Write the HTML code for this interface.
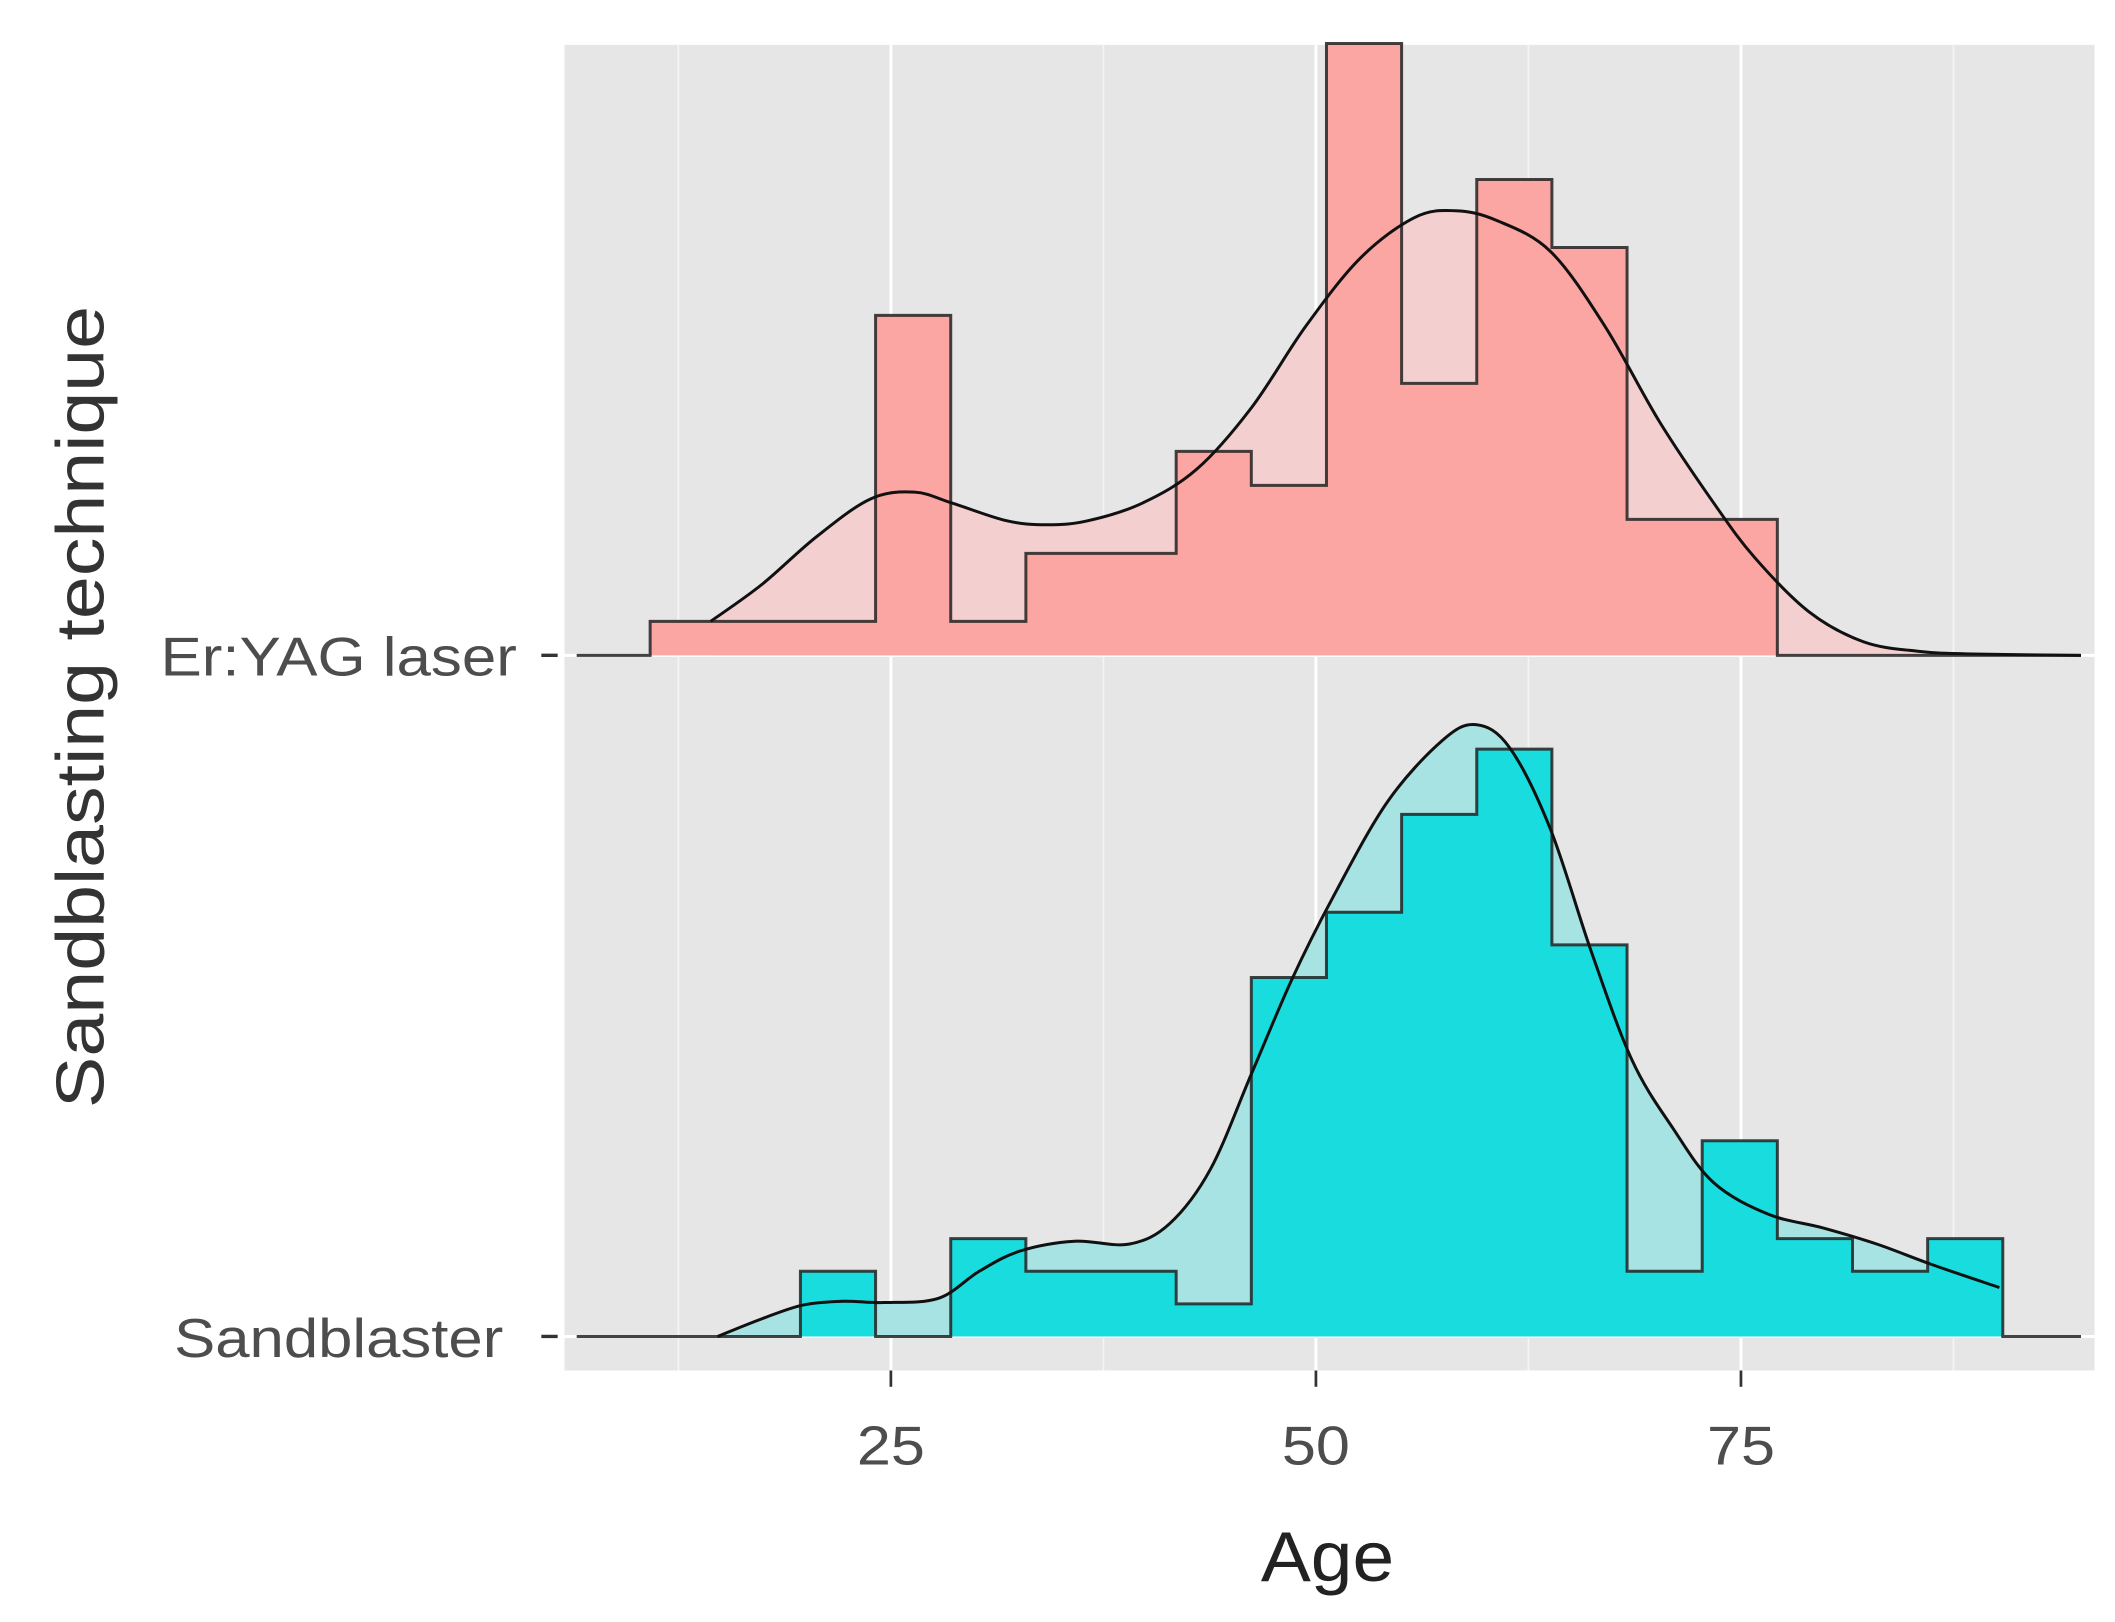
<!DOCTYPE html>
<html><head><meta charset="utf-8"><style>
html,body{margin:0;padding:0;background:#fff;}
svg{display:block;font-family:"Liberation Sans",Arial,sans-serif;}
</style></head><body>
<svg id="chart" width="2115" height="1622" viewBox="0 0 1555 1193" preserveAspectRatio="none" xmlns="http://www.w3.org/2000/svg">
<rect x="415" y="33" width="1125" height="975" fill="#E6E6E6"/>
<g id="grid"></g>
<g id="marks"></g>
<g id="axes"></g>
</svg>
<script>
// ---- data ----
const groups = ["Er:YAG laser", "Sandblaster"];
const binStart = 10.84;
const binWidth = 4.42;
const erCounts = [1,1,1,10,1,3,3,6,5,18,8,14,12,4,4];
const sandCounts = [0,0,2,0,3,2,2,1,11,13,16,18,12,2,6,3,2,3];
const erDensAge = [14.4,17.4,20.6,23.8,26.4,28.6,31.8,34.2,36.6,39.8,43,46.2,49.4,52.6,55.8,58.2,60.6,63.8,67,70.2,73.4,75.8,79,82.2,85.4,88.6,95];
const erDensVal = [1,2.08,3.48,4.6,4.8,4.48,3.96,3.84,3.96,4.48,5.48,7.28,9.68,11.68,12.88,13.08,12.8,11.88,9.68,6.88,4.48,2.88,1.28,0.4,0.12,0.04,0];
const sandDensAge = [14.8,17.4,19.8,22.2,24.6,27.8,30.2,32.6,35.8,39,41.4,43.8,46.2,48.6,51,54.2,57.4,59.4,61.4,63.8,66.2,68.6,71,73.4,76.6,79.8,83,86.2,90.2];
const sandDensVal = [0,0.54,0.96,1.08,1.04,1.17,2,2.62,2.92,2.83,3.46,5.13,8.04,10.96,13.46,16.38,18.25,18.75,18.04,15.54,11.79,8.46,6.38,4.71,3.75,3.33,2.83,2.21,1.5];
const xTicks = [25,50,75];
const xMinor = [12.5,37.5,62.5,87.5];

// ---- scales ----
const NS = "http://www.w3.org/2000/svg";
function xs(v){ return 342.5 + 12.5*v; }
const baseY = [482, 983];
const unitH = [25, 24];
function ys(g, c){ return baseY[g] - unitH[g]*c; }
function mk(tag, attrs, parent){
  const e = document.createElementNS(NS, tag);
  for (const k in attrs) e.setAttribute(k, attrs[k]);
  parent.appendChild(e); return e;
}
function smooth(pts){
  let d = 'M'+pts[0][0]+','+pts[0][1];
  for (let i=0;i<pts.length-1;i++){
    const p0=pts[Math.max(0,i-1)], p1=pts[i], p2=pts[i+1], p3=pts[Math.min(pts.length-1,i+2)];
    const c1x=p1[0]+(p2[0]-p0[0])/6, c1y=p1[1]+(p2[1]-p0[1])/6;
    const c2x=p2[0]-(p3[0]-p1[0])/6, c2y=p2[1]-(p3[1]-p1[1])/6;
    d += ' C'+c1x+','+c1y+' '+c2x+','+c2y+' '+p2[0]+','+p2[1];
  }
  return d;
}
const grid = document.getElementById('grid');
const marks = document.getElementById('marks');
const axes = document.getElementById('axes');

xMinor.forEach(v=>{
  const l = mk('line',{x1:xs(v),x2:xs(v),y1:33,y2:1008,stroke:'#F4F4F4','stroke-width':1.3},grid);
  
  
});
xTicks.forEach(v=>{
  const l = mk('line',{x1:xs(v),x2:xs(v),y1:33,y2:1008,stroke:'#FFFFFF','stroke-width':2.2},grid);
  
  
});
baseY.forEach(y=>{
  const l = mk('line',{x1:415,x2:1540,y1:y,y2:y,stroke:'#FFFFFF','stroke-width':2.2},grid);
  
  
});

const series = [
  {counts:erCounts, dA:erDensAge, dV:erDensVal, hist:'#FCA6A3', dens:'#F3CFCF', name:'er-yag'},
  {counts:sandCounts, dA:sandDensAge, dV:sandDensVal, hist:'#19DCDE', dens:'#A8E3E3', name:'sandblaster'}
];
series.forEach((s,g)=>{
  const pts = s.dA.map((a,i)=>[xs(a), ys(g,s.dV[i])]);
  const sp = smooth(pts);
  // density fill
  const d = 'M'+pts[0][0]+','+baseY[g]+' L'+sp.slice(1)+' L'+pts[pts.length-1][0]+','+baseY[g]+' Z';
  const df = mk('path',{d:d,fill:s.dens,stroke:'none'},marks);
  
  
  // histogram fill
  const n = s.counts.length;
  let h = 'M'+xs(binStart)+','+baseY[g];
  s.counts.forEach((c,i)=>{
    const x0 = xs(binStart+i*binWidth), x1 = xs(binStart+(i+1)*binWidth);
    h += ' L'+x0+','+ys(g,c)+' L'+x1+','+ys(g,c);
  });
  h += ' L'+xs(binStart+n*binWidth)+','+baseY[g];
  const hf = mk('path',{d:h+' Z',fill:s.hist,stroke:'none'},marks);
  
  
  const full = 'M424,'+baseY[g]+' L'+xs(binStart)+','+baseY[g]+h.slice(h.indexOf(' '))+' L1530,'+baseY[g];
  const ho = mk('path',{d:full,fill:'none',stroke:'#222','stroke-opacity':0.85,'stroke-width':2.2},marks);
  
  
  const ln = mk('path',{d:sp,fill:'none',stroke:'#111','stroke-width':2.2,'stroke-linejoin':'round'},marks);
  
  
});

// axes
xTicks.forEach(v=>{
  const t = mk('line',{x1:xs(v),x2:xs(v),y1:1008,y2:1020,stroke:'#333','stroke-width':2},axes);
  
  
  const tx = mk('text',{x:xs(v),y:1077,'text-anchor':'middle','font-size':40,fill:'#4D4D4D',textLength:50,lengthAdjust:'spacingAndGlyphs'},axes);
  tx.textContent = v;
  
  
});
const yLabLen = [262, 242];
groups.forEach((gname,g)=>{
  const t = mk('line',{x1:398,x2:410,y1:baseY[g],y2:baseY[g],stroke:'#333','stroke-width':2.5},axes);
  
  
  const tx = mk('text',{x:g?370:380,y:baseY[g]+15,'text-anchor':'end','font-size':40,fill:'#4D4D4D',textLength:yLabLen[g],lengthAdjust:'spacingAndGlyphs'},axes);
  tx.textContent = gname;
  
  
});
const xt = mk('text',{x:976,y:1163,'text-anchor':'middle','font-size':52,fill:'#222',textLength:98,lengthAdjust:'spacingAndGlyphs'},axes);
xt.textContent = 'Age';


const yt = mk('text',{x:0,y:0,'text-anchor':'middle','font-size':50,fill:'#333',transform:'translate(76,520) rotate(-90)',textLength:590,lengthAdjust:'spacingAndGlyphs'},axes);
yt.textContent = 'Sandblasting technique';


</script>
</body></html>
